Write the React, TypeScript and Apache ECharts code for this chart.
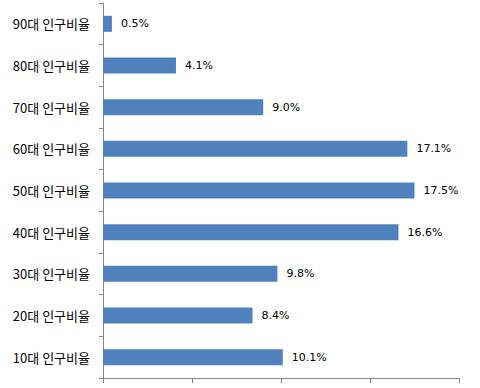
import React, { useEffect, useRef } from "react";
import * as echarts from "echarts";

const categories = [
  "10대 인구비율",
  "20대 인구비율",
  "30대 인구비율",
  "40대 인구비율",
  "50대 인구비율",
  "60대 인구비율",
  "70대 인구비율",
  "80대 인구비율",
  "90대 인구비율",
];
const values = [10.1, 8.4, 9.8, 16.6, 17.5, 17.1, 9.0, 4.1, 0.5];

export default function App() {
  const ref = useRef<HTMLDivElement>(null);
  useEffect(() => {
    if (!ref.current) return;
    const chart = echarts.init(ref.current, undefined, { renderer: "svg" });
    chart.setOption({
      animation: false,
      backgroundColor: "#ffffff",
      grid: { left: 103, right: 21, top: 3, bottom: 10, containLabel: false },
      xAxis: {
        type: "value",
        min: 0,
        max: 20,
        interval: 5,
        axisLine: { show: true, lineStyle: { color: "#868686", width: 1 } },
        axisTick: { show: true, length: 5, lineStyle: { color: "#868686" } },
        axisLabel: { show: false },
        splitLine: { show: false },
      },
      yAxis: {
        type: "category",
        data: categories,
        axisLine: { show: true, lineStyle: { color: "#868686", width: 1 } },
        axisTick: { show: true, length: 4, alignWithLabel: false, lineStyle: { color: "#868686" } },
        axisLabel: {
          margin: 13,
          color: "#000000",
          fontSize: 13,
          fontFamily: "Noto Sans CJK KR",
        },
      },
      series: [
        {
          type: "bar",
          data: values,
          barWidth: 16,
          itemStyle: { color: "#4F81BD" },
          label: {
            show: true,
            position: "right",
            distance: 9,
            color: "#000000",
            fontSize: 11,
            fontFamily: "DejaVu Sans",
            formatter: (p: any) => Number(p.value).toFixed(1) + "%",
          },
        },
      ],
    });
    return () => chart.dispose();
  }, []);
  return (
    <div
      ref={ref}
      style={{ position: "fixed", left: 0, top: 0, width: 480, height: 388 }}
    />
  );
}
